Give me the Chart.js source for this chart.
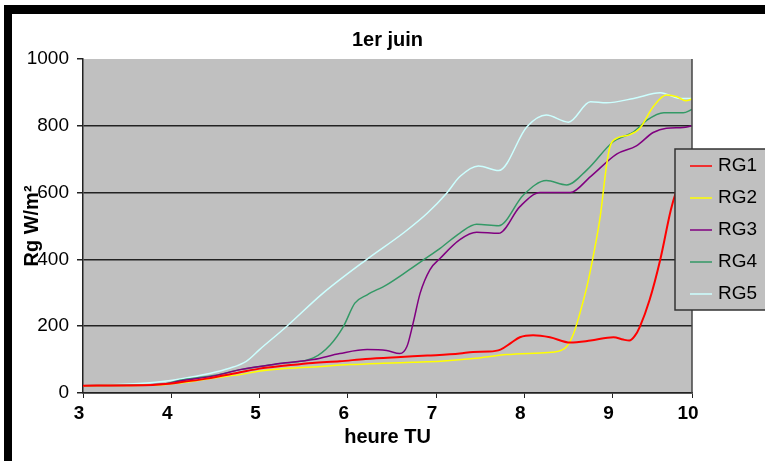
<!DOCTYPE html>
<html>
<head>
<meta charset="utf-8">
<script src="https://cdn.jsdelivr.net/npm/chart.js@4/dist/chart.umd.min.js"></script>
<style>
    html, body { margin: 0; padding: 0; background: #fff; }
    #wrap { position: relative; width: 765px; height: 461px; overflow: hidden; }
    .band { position: absolute; background: #000; }
</style>
</head>
<body>
<div id="wrap">
    <canvas id="chart" width="765" height="461"></canvas>
    <div class="band" style="left:4px;top:5px;width:761px;height:9px"></div>
    <div class="band" style="left:4px;top:5px;width:8px;height:456px"></div>
</div>
<script>
// hours (TU) and global radiation (W/m²) per sensor
const rg1Hours = [3.0, 3.7, 3.9, 4.1, 4.4, 4.78, 5.0, 5.3, 5.6, 5.91, 6.2, 6.6, 6.9, 7.27, 7.42, 7.6, 7.73, 7.85, 7.95, 8.1, 8.29, 8.52, 8.75, 9.01, 9.12, 9.19, 9.25, 9.31, 9.42, 9.54, 9.66, 9.72, 9.8, 9.9];
const rg1Values = [22, 23, 26, 32, 43, 62, 73, 82, 90, 95, 102, 108, 112, 118, 123, 124, 130, 150, 167, 173, 167, 151, 157, 167, 160, 157, 170, 199, 279, 399, 548, 603, 660, 700];

const rg2Hours = [3.0, 3.9, 4.1, 4.48, 4.78, 5.01, 5.23, 5.6, 6.03, 6.4, 6.74, 7.05, 7.42, 7.8, 8.18, 8.37, 8.48, 8.56, 8.63, 8.71, 8.78, 8.86, 8.93, 8.97, 9.05, 9.19, 9.31, 9.46, 9.61, 9.73, 9.83, 9.9];
const rg2Values = [22, 25, 30, 45, 55, 66, 72, 78, 85, 89, 92, 95, 103, 115, 120, 124, 139, 179, 239, 319, 408, 528, 678, 737, 763, 773, 793, 857, 892, 887, 875, 880];

const rg3Hours = [3.0, 3.9, 4.1, 4.5, 4.78, 5.23, 5.61, 5.91, 6.22, 6.44, 6.59, 6.67, 6.74, 6.82, 6.93, 7.05, 7.27, 7.46, 7.71, 7.95, 8.18, 8.52, 8.75, 9.05, 9.27, 9.46, 9.61, 9.8, 9.9];
const rg3Values = [22, 26, 36, 52, 70, 88, 100, 118, 130, 127, 118, 139, 209, 299, 369, 404, 459, 481, 478, 558, 600, 600, 648, 716, 740, 780, 793, 795, 800];

const rg4Hours = [3.0, 3.9, 4.1, 4.5, 4.78, 5.23, 5.61, 5.8, 5.95, 6.08, 6.22, 6.44, 6.67, 6.86, 7.05, 7.27, 7.46, 7.71, 7.99, 8.25, 8.48, 8.71, 9.01, 9.24, 9.39, 9.58, 9.8, 9.9];
const rg4Values = [22, 26, 38, 53, 70, 88, 105, 144, 199, 269, 294, 324, 364, 399, 434, 479, 505, 501, 593, 636, 623, 668, 753, 782, 817, 839, 839, 849];

const rg5Hours = [3.0, 3.72, 4.1, 4.67, 4.85, 5.0, 5.31, 5.72, 6.22, 6.63, 6.9, 7.12, 7.27, 7.48, 7.71, 8.03, 8.25, 8.5, 8.75, 8.93, 9.24, 9.54, 9.77, 9.9];
const rg5Values = [22, 30, 42, 75, 95, 130, 200, 299, 401, 479, 538, 598, 648, 680, 666, 797, 832, 811, 872, 869, 882, 899, 882, 882];

const seriesNames = ['RG1', 'RG2', 'RG3', 'RG4', 'RG5'];
const seriesColors = ['#ff0000', '#ffff00', '#800080', '#339966', '#ccffff'];
const xTickValues = [3, 4, 5, 6, 7, 8, 9, 9.9];
const xTickLabels = ['3', '4', '5', '6', '7', '8', '9', '10'];
const chartTitle = '1er juin';

const FONT = "'Liberation Sans', Arial, sans-serif";

const toPoints = (hours, values) => hours.map((h, i) => ({ x: h, y: values[i] }));
const allHours = [rg1Hours, rg2Hours, rg3Hours, rg4Hours, rg5Hours];
const allValues = [rg1Values, rg2Values, rg3Values, rg4Values, rg5Values];

// draw order: RG5 at the back, RG1 on top
const datasets = seriesNames.map((name, i) => ({
    label: name,
    data: toPoints(allHours[i], allValues[i]),
    borderColor: seriesColors[i],
    borderWidth: i === 0 ? 2 : 1.5,
    pointRadius: 0,
    cubicInterpolationMode: 'monotone',
    order: i
}));

const plotBackground = {
    id: 'plotBackground',
    beforeDraw(chart) {
        const { ctx, chartArea: a } = chart;
        ctx.save();
        ctx.fillStyle = '#c0c0c0';
        ctx.fillRect(a.left, a.top, a.right - a.left, a.bottom - a.top);
        ctx.restore();
    },
    afterDatasetsDraw(chart) {
        const { ctx, chartArea: a } = chart;
        ctx.save();
        ctx.strokeStyle = '#444';
        ctx.lineWidth = 1.5;
        ctx.beginPath();
        ctx.moveTo(a.right, a.top);
        ctx.lineTo(a.right, a.bottom);
        ctx.stroke();
        // title centred over the plot area
        ctx.fillStyle = '#000';
        ctx.font = 'bold 20px ' + FONT;
        ctx.textAlign = 'center';
        ctx.textBaseline = 'middle';
        ctx.fillText(chartTitle, (a.left + a.right) / 2, 40);
        ctx.restore();
    }
};

// Excel style legend box sitting over the plot edge
const boxLegend = {
    id: 'boxLegend',
    afterDraw(chart) {
        const { ctx } = chart;
        const x = 675, y = 149, h = 161;
        ctx.save();
        ctx.fillStyle = '#c0c0c0';
        ctx.fillRect(x, y, 100, h);
        ctx.strokeStyle = '#333';
        ctx.lineWidth = 1.5;
        ctx.strokeRect(x, y, 100, h);
        ctx.font = '19px ' + FONT;
        ctx.textBaseline = 'middle';
        ctx.fillStyle = '#000';
        seriesNames.forEach((name, i) => {
            const ly = 166 + i * 32;
            ctx.strokeStyle = seriesColors[i];
            ctx.lineWidth = 1.5;
            ctx.beginPath();
            ctx.moveTo(690, ly);
            ctx.lineTo(712, ly);
            ctx.stroke();
            ctx.fillText(name, 718, ly);
        });
        ctx.restore();
    }
};

new Chart(document.getElementById('chart'), {
    type: 'line',
    data: { datasets },
    options: {
        responsive: false,
        animation: false,
        layout: { padding: { top: 59, right: 73, bottom: 0, left: 0 } },
        plugins: {
            legend: { display: false },
            tooltip: { enabled: false },
            title: { display: false }
        },
        scales: {
            x: {
                type: 'linear',
                min: 3,
                max: 9.9,
                afterBuildTicks: (scale) => {
                    scale.ticks = xTickValues.map(v => ({ value: v }));
                },
                afterFit: (scale) => { scale.height = 68; },
                ticks: {
                    callback: (val, i) => xTickLabels[i],
                    color: '#000',
                    font: { family: FONT, size: 19, weight: 'bold' },
                    padding: 4,
                    labelOffset: -4,
                    maxRotation: 0,
                    autoSkip: false
                },
                grid: { drawOnChartArea: false, drawTicks: true, tickLength: 5, tickColor: '#222' },
                border: { display: true, color: '#222', width: 1.5 },
                title: {
                    display: true,
                    text: 'heure TU',
                    color: '#000',
                    font: { family: FONT, size: 20, weight: 'bold' },
                    padding: { top: 0, bottom: 12 }
                }
            },
            y: {
                min: 0,
                max: 1000,
                afterFit: (scale) => { scale.width = 83; },
                ticks: {
                    stepSize: 200,
                    callback: (val) => String(val),
                    color: '#000',
                    font: { family: FONT, size: 19 },
                    padding: 8
                },
                grid: {
                    color: (c) => (c.tick && c.tick.value === 1000) ? 'rgba(0,0,0,0)' : '#222',
                    tickColor: '#222',
                    lineWidth: 1.5,
                    tickLength: 6
                },
                border: { display: true, color: '#222', width: 1.5 },
                title: {
                    display: true,
                    text: 'Rg W/m²',
                    color: '#000',
                    font: { family: FONT, size: 20, weight: 'bold' },
                    padding: { top: 20, bottom: 0 }
                }
            }
        }
    },
    plugins: [plotBackground, boxLegend]
});
</script>
</body>
</html>
